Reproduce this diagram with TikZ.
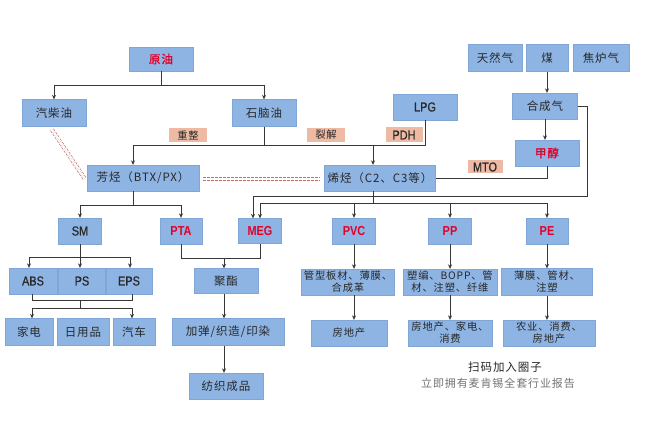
\documentclass[tikz,border=0pt]{standalone}
\usepackage{fontspec}
\newfontfamily\cjk[LetterSpace=8]{Noto Sans CJK SC}
\newfontfamily\cjkb[FakeBold=1.3,LetterSpace=8]{Noto Sans CJK SC}
\newfontfamily\lat[FakeStretch=0.84]{Liberation Sans}
\newfontfamily\latb[FakeStretch=0.84,FakeBold=0.6]{Liberation Sans}
\usetikzlibrary{arrows.meta,calc}
\definecolor{boxblue}{RGB}{142,180,227}
\definecolor{boxedge}{RGB}{128,166,216}
\definecolor{lab}{RGB}{238,186,164}
\definecolor{redt}{RGB}{226,0,40}
\definecolor{linec}{RGB}{55,55,55}
\definecolor{txt}{RGB}{40,40,40}
\definecolor{dashc}{RGB}{190,110,100}
\begin{document}
\begin{tikzpicture}[x=1pt,y=-1pt,
  box/.style={fill=boxblue, draw=boxedge, line width=0.3pt, inner sep=0pt, align=center,
    font=\cjk\fontsize{11.5}{12}\selectfont, text=txt},
  small/.style={font=\cjk\fontsize{10.3}{12}\selectfont},
  latn/.style={font=\latb\fontsize{13}{13}\selectfont},
  latr/.style={font=\lat\bfseries\fontsize{13}{13}\selectfont, text=redt},
  cjr/.style={font=\cjkb\fontsize{11.5}{12}\selectfont, text=redt},
  lbl/.style={fill=lab, inner sep=0pt, text=txt},
  wh/.style 2 args={minimum width=#1pt, minimum height=#2pt},
  conn/.style={draw=linec, line width=0.6pt},
  arr/.style={conn, -{Stealth[length=4.5pt,width=4pt]}},
  dd/.style={draw=dashc, line width=0.6pt, dashed, dash pattern=on 2.5pt off 1.5pt, double=white, double distance=2.8pt}
]
\useasboundingbox (0,0) rectangle (657,425);
\fill[white] (0,0) rectangle (657,425);

% top level
\node[box, wh={64}{24}, cjr] (yy) at (161,59) {原油};
\node[box, wh={64}{27}] (qcy) at (54,113) {汽柴油};
\node[box, wh={64}{27}] (sny) at (264,113) {石脑油};
\node[lbl, wh={38}{14}, small] (cz) at (188,135) {重整};
\node[lbl, wh={38}{14}, small] (lj) at (326,135) {裂解};
\node[box, wh={64}{26}, latn] (lpg) at (425,107) {LPG};
\node[lbl, wh={37}{15}, latn] (pdh) at (404,135) {PDH};
\node[box, wh={112}{26}] (fj) at (143,178) {芳烃（BTX/PX）};
\node[box, wh={111}{26}] (xj) at (380,178) {烯烃（C2、C3等）};

% right top
\node[box, wh={54}{27}] (trq) at (495,58) {天然气};
\node[box, wh={42}{27}] (mei) at (547,58) {煤};
\node[box, wh={56}{27}] (jlq) at (601,58) {焦炉气};
\node[box, wh={65}{26}] (hcq) at (545,106) {合成气};
\node[box, wh={64}{26}, cjr] (jc) at (547,153) {甲醇};
\node[lbl, wh={35}{13}, latn] (mto) at (485,167) {MTO};

% second level
\node[box, wh={43}{26}, latn] (sm) at (80,231) {SM};
\node[box, wh={42}{26}, latr] (pta) at (181,231) {PTA};
\node[box, wh={43}{25}, latr] (meg) at (260,231) {MEG};
\node[box, wh={43}{26}, latr] (pvc) at (354,231) {PVC};
\node[box, wh={43}{26}, latr] (pp) at (450,231) {PP};
\node[box, wh={42}{26}, latr] (pe) at (547,231) {PE};

% third level
\node[box, wh={48}{26}, latn] (abs) at (33,281) {ABS};
\node[box, wh={47}{26}, latn] (ps) at (82,281) {PS};
\node[box, wh={46}{26}, latn] (eps) at (129,281) {EPS};
\node[box, wh={64}{25}] (jz) at (226,281) {聚酯};
\node[box, wh={93}{26}, small] (pvca) at (348,282) {管型板材、薄膜、\\合成革};
\node[box, wh={94}{26}, small] (ppa) at (450,282) {塑编、BOPP、管\\材、注塑、纤维};
\node[box, wh={91}{27}, small] (pea) at (547,282) {薄膜、管材、\\注塑};

% fourth level
\node[box, wh={48}{27}] (jd) at (29,332) {家电};
\node[box, wh={52}{27}] (ryp) at (83,332) {日用品};
\node[box, wh={42}{27}] (qc) at (134,332) {汽车};
\node[box, wh={112}{27}] (jt) at (228,332) {加弹/织造/印染};
\node[box, wh={76}{26}, small] (pvcb) at (349,333) {房地产};
\node[box, wh={84}{26}, small] (ppb) at (450,333) {房地产、家电、\\消费};
\node[box, wh={92}{26}, small] (peb) at (549,333) {农业、消费、\\房地产};
\node[box, wh={74}{26}] (fz) at (226,386) {纺织成品};

% watermark text
\node[font=\cjk\fontsize{11.5}{12}\selectfont, text=txt, inner sep=0pt] (wm1) at (505,367) {扫码加入圈子};
\node[font=\cjk\fontsize{11}{12}\selectfont, text=black!55, inner sep=0pt] (wm2) at (498,383) {立即拥有麦肯锡全套行业报告};

% connectors
\coordinate (a1) at (161,85);
\draw[conn] (yy.south) -- (a1);
\draw[arr] (a1) -| (qcy.north);
\draw[arr] (a1) -| (sny.north);

\coordinate (b1) at (133,145);
\coordinate (b2) at (373,145);
\draw[conn] (sny.south) -- (sny.south |- b1);
\draw[conn] (b1) -- (lpg.south |- b1) -- (lpg.south);
\draw[arr] (b1) -- (b1 |- fj.north);
\draw[arr] (b2) -- (b2 |- xj.north);

\draw[arr] (mei.south) -- (mei.south |- hcq.north);
\draw[arr] (hcq.south) -- (hcq.south |- jc.north);
\draw[conn] (jc.south) |- (xj.east);

\coordinate (c1) at (587,196);
\coordinate (c2) at (253,196);
\draw[arr] (hcq.east) -| (c1) -- (c2) -- (c2 |- meg.north);

\coordinate (d0) at (373,203);
\draw[conn] (xj.south -| d0) -- (d0);
\draw[arr] (d0) -| (meg.north);
\draw[arr] (d0) -| (pvc.north);
\draw[arr] (d0) -| (pp.north);
\draw[arr] (d0) -| (pe.north);

\coordinate (e0) at (133,205);
\draw[conn] (fj.south -| e0) -- (e0);
\draw[arr] (e0) -| (sm.north);
\draw[arr] (e0) -| (pta.north);

\coordinate (f0) at (80,257);
\draw[conn] (sm.south) -- (f0);
\draw[arr] (f0) -| ($(abs.north)+(-4,0)$);
\draw[arr] (f0) -| (ps.north -| f0);
\draw[arr] (f0) -| ($(eps.north)+(1,0)$);

\coordinate (g1) at (32,300);
\coordinate (g2) at (132,300);
\coordinate (g0) at (80,300);
\coordinate (g3) at (80,308);
\draw[conn] (abs.south -| g1) -- (g1) -- (g2) -- (eps.south -| g2);
\draw[conn] (g0) -- (g3);
\draw[arr] (g3) -| (jd.north -| g1);
\draw[arr] (g3) -| (qc.north -| g2);

\coordinate (h0) at (224,258);
\draw[conn] (pta.south) |- (h0);
\draw[conn] (meg.south) |- (h0);
\draw[arr] (h0) -- (h0 |- jz.north);
\draw[arr] (jz.south -| h0) -- (h0 |- jt.north);
\draw[arr] (jt.south -| h0) -- (h0 |- fz.north);

\draw[arr] (pvc.south) -- (pvc.south |- pvca.north);
\draw[arr] (pvca.south -| pvc.south) -- (pvc.south |- pvcb.north);
\draw[arr] (pp.south) -- (pp.south |- ppa.north);
\draw[arr] (ppa.south -| pp.south) -- (pp.south |- ppb.north);
\draw[arr] (pe.south) -- (pe.south |- pea.north);
\draw[arr] (pea.south -| pe.south) -- (pe.south |- peb.north);

% dashed double links
\draw[dd] ($(qcy.south)+(-2,3)$) -- ($(fj.west)+(-2,1)$);
\draw[dd] ($(fj.east)+(4,1)$) -- ($(xj.west)+(-4,1)$);
\end{tikzpicture}
\end{document}
